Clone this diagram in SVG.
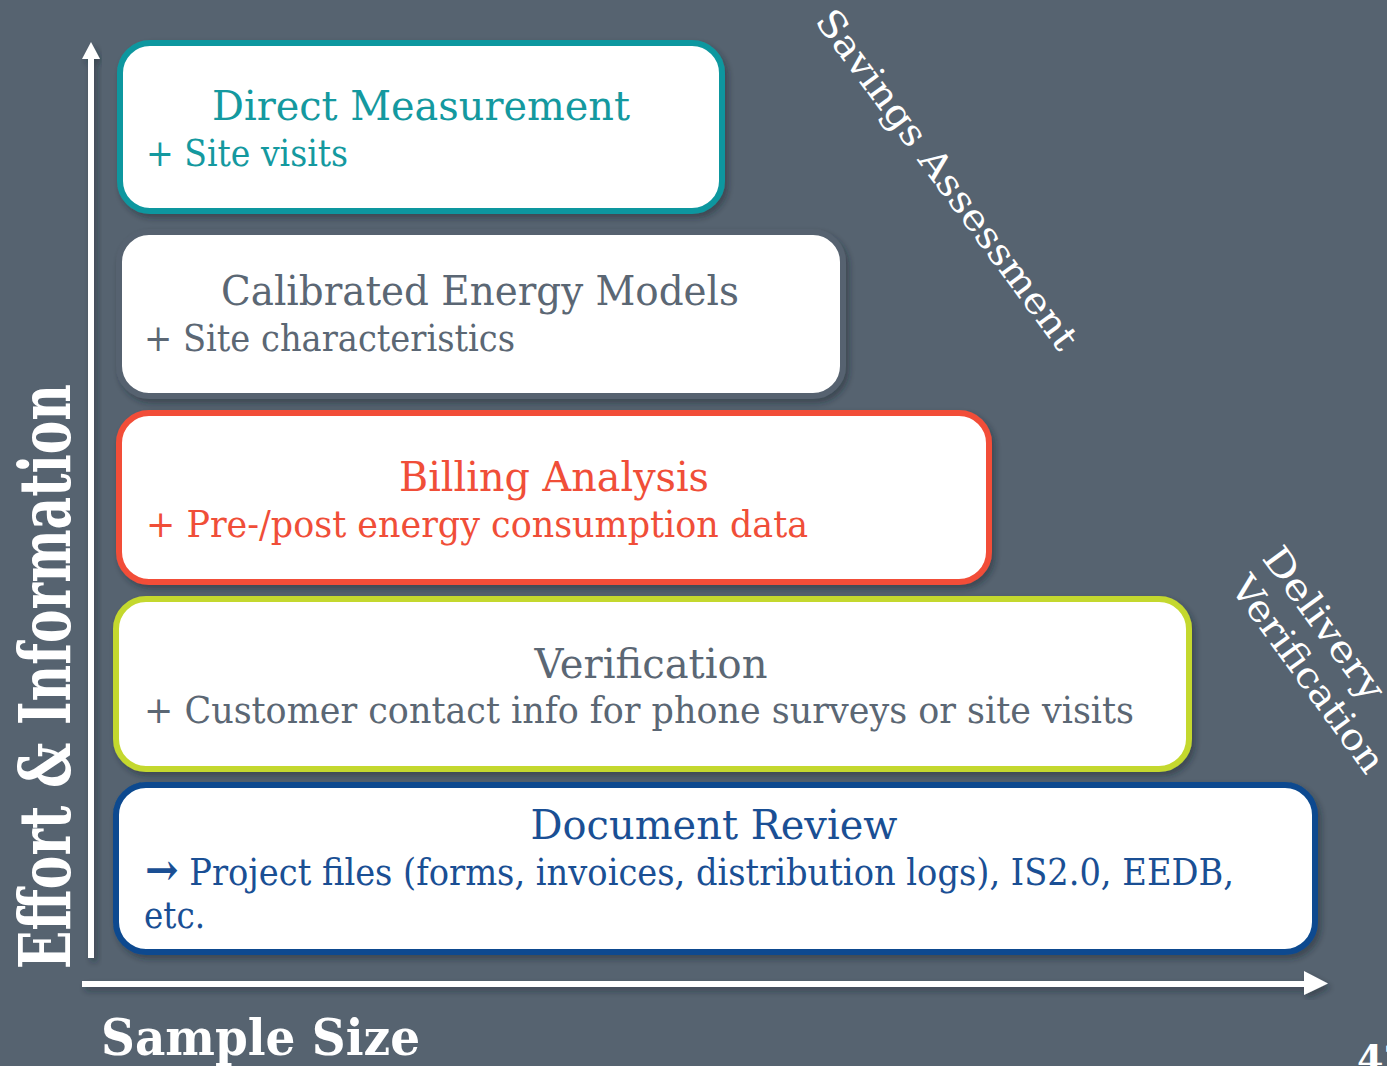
<svg xmlns="http://www.w3.org/2000/svg" width="1387" height="1066" viewBox="0 0 1387 1066">
<defs>
<filter id="sh" x="-5%" y="-10%" width="115%" height="130%">
<feDropShadow dx="3" dy="4" stdDeviation="3" flood-color="#1e252d" flood-opacity="0.45"/>
</filter>
<style>
.box{fill:#ffffff;stroke-width:6;filter:url(#sh)}
.t{font-family:"DejaVu Serif","Liberation Serif",serif;font-weight:300}
.ttl{font-size:41px;text-anchor:middle}
.sub{font-size:37px}
.wh{fill:#ffffff}
.axis{fill:#ffffff;filter:url(#sh)}
</style>
</defs>
<rect x="0" y="0" width="1387" height="1066" fill="#566370"/>

<g id="connectors">
<path class="axis" d="M88,958 L88,59 L82,59 L91,42 L100,59 L94,59 L94,958 Z"/>
<path class="axis" d="M82,981 L1304,981 L1304,971 L1328,983.5 L1304,995 L1304,987 L82,987 Z"/>
</g>

<g id="direct-measurement">
<rect class="box" x="120" y="43" width="602" height="168" rx="30" stroke="#10979f"/>
<text class="t ttl" x="421" y="120" fill="#14999f" textLength="418" lengthAdjust="spacingAndGlyphs">Direct Measurement</text>
<text class="t sub" x="146" y="166" fill="#14999f" textLength="202" lengthAdjust="spacingAndGlyphs">+ Site visits</text>
</g>

<g id="calibrated-energy-models">
<rect class="box" x="119" y="232" width="724" height="164" rx="30" stroke="#56626f"/>
<text class="t ttl" x="480" y="305" fill="#5b6774" textLength="518" lengthAdjust="spacingAndGlyphs">Calibrated Energy Models</text>
<text class="t sub" x="144" y="351" fill="#5b6774" textLength="371" lengthAdjust="spacingAndGlyphs">+ Site characteristics</text>
</g>

<g id="billing-analysis">
<rect class="box" x="119" y="413" width="870" height="169" rx="30" stroke="#f24e38"/>
<text class="t ttl" x="554" y="491" fill="#f04e38" textLength="310" lengthAdjust="spacingAndGlyphs">Billing Analysis</text>
<text class="t sub" x="146" y="537" fill="#f04e38" textLength="662" lengthAdjust="spacingAndGlyphs">+ Pre-/post energy consumption data</text>
</g>

<g id="verification">
<rect class="box" x="116" y="599" width="1073" height="170" rx="30" stroke="#c4d82e"/>
<text class="t ttl" x="651" y="678" fill="#5b6774" textLength="233" lengthAdjust="spacingAndGlyphs">Verification</text>
<text class="t sub" x="144" y="723" fill="#5b6774" textLength="990" lengthAdjust="spacingAndGlyphs">+ Customer contact info for phone surveys or site visits</text>
</g>

<g id="document-review">
<rect class="box" x="116" y="785" width="1199" height="167" rx="30" stroke="#0b4a8f"/>
<text class="t ttl" x="714" y="839" fill="#1a4f94" textLength="367" lengthAdjust="spacingAndGlyphs">Document Review</text>
<text class="t sub" x="145" y="885" fill="#1a4f94" textLength="1089" lengthAdjust="spacingAndGlyphs"><tspan font-size="44" style="font-weight:700">→</tspan> Project files (forms, invoices, distribution logs), IS2.0, EEDB,</text>
<text class="t sub" x="144" y="928" fill="#1a4f94" textLength="61" lengthAdjust="spacingAndGlyphs">etc.</text>
</g>

<g id="axis-labels">
<text class="t wh" transform="translate(70,969) rotate(-90)" font-size="71" textLength="585" lengthAdjust="spacingAndGlyphs" style="font-weight:700">Effort &amp; Information</text>
<text class="t wh" x="101" y="1055" font-size="51" style="font-weight:700" textLength="319" lengthAdjust="spacingAndGlyphs">Sample Size</text>
</g>

<g id="savings-assessment">
<text class="t wh" transform="translate(814,21) rotate(53.5)" font-size="37" textLength="413" lengthAdjust="spacingAndGlyphs">Savings Assessment</text>
</g>

<g id="delivery-verification">
<text class="t wh" transform="translate(1261,558) rotate(54)" font-size="37" textLength="180" lengthAdjust="spacingAndGlyphs">Delivery</text>
<text class="t wh" transform="translate(1229,587) rotate(54)" font-size="37" textLength="234" lengthAdjust="spacingAndGlyphs">Verification</text>
</g>

<text class="t wh" x="1357" y="1072" font-size="38" style="font-weight:700">42</text>
</svg>
